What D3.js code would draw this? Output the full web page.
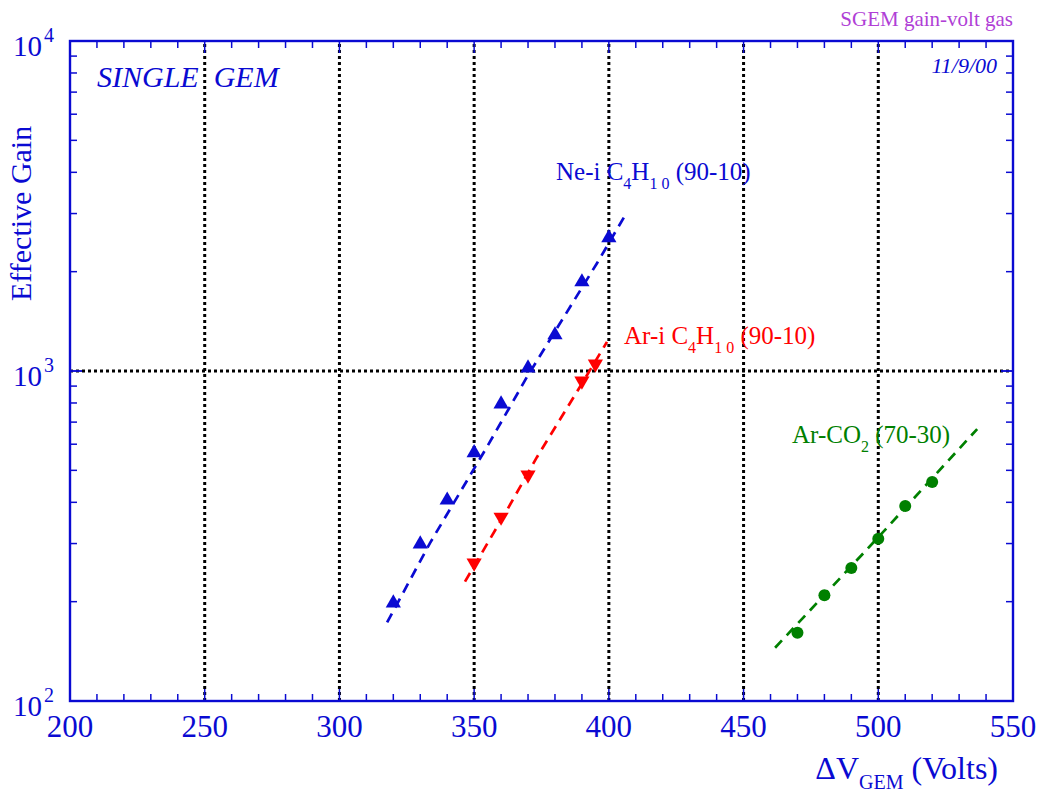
<!DOCTYPE html>
<html><head><meta charset="utf-8">
<script src="https://cdn.jsdelivr.net/npm/d3@7"></script>
<style>
html,body{margin:0;padding:0;background:#fff;}
svg{display:block;font-family:"Liberation Serif","Times New Roman",serif;}
</style></head>
<body>
<svg id="c" width="1048" height="794"></svg>
<script>
// ---- data ----
const voltNe = [320, 330, 340, 350, 360, 370, 380, 390, 400];
const gainNe = [198, 299, 406, 565, 794, 1021, 1286, 1862, 2532];
const voltAr = [350, 360, 370, 390, 395];
const gainAr = [262, 361, 484, 933, 1050];
const voltCO2 = [470, 480, 490, 500, 510, 520];
const gainCO2 = [161, 209, 253, 310, 390, 461];
// dashed fit curves
const fitNeV = [317.7, 333.6, 355.2, 369.6, 385.6, 395.6, 406.8];
const fitNeG = [173, 301, 597, 959, 1563, 2122, 3035];
const fitArV = [346.6, 362.2, 373.3, 389.3, 399.3];
const fitArG = [230, 379, 548, 896, 1225];
const fitCO2V = [461.7, 500.7, 536.7];
const fitCO2G = [145, 318, 667];
// axes
const xTicks = [200, 250, 300, 350, 400, 450, 500, 550];
const xGrid = [250, 300, 350, 400, 450, 500];
const yExp = [2, 3, 4];
const yGrid = [1000];

const BLUE = "#0a0ad2", RED = "#ff0000", GREEN = "#008000", PURPLE = "#b03fd6";

const L = 70, T = 41, R = 1013, B = 701;
const svg = d3.select("#c");
const x = d3.scaleLinear().domain([200, 550]).range([L, R]);
const y = d3.scaleLog().domain([100, 10000]).range([B, T]);

// grid
const grid = svg.append("g").attr("stroke", "#000").attr("stroke-width", 3).attr("stroke-dasharray", "3,3");
grid.selectAll(".vg").data(xGrid).join("line")
  .attr("x1", d => x(d)).attr("x2", d => x(d)).attr("y1", B).attr("y2", T);
grid.selectAll(".hg").data(yGrid).join("line")
  .attr("x1", L).attr("x2", R).attr("y1", d => y(d)).attr("y2", d => y(d));

// ticks
const xMinor = d3.range(200, 551, 10);
const yMinor = [];
[100, 1000].forEach(b => { for (let k = 1; k <= 10; k++) yMinor.push(b * k); });
const tg = svg.append("g").attr("stroke", BLUE).attr("stroke-width", 1.5);
tg.selectAll(".xb").data(xMinor).join("line")
  .attr("x1", d => x(d)).attr("x2", d => x(d)).attr("y1", B).attr("y2", d => B - (d % 50 === 0 ? 12 : 7));
tg.selectAll(".xt").data(xMinor).join("line")
  .attr("x1", d => x(d)).attr("x2", d => x(d)).attr("y1", T).attr("y2", d => T + (d % 50 === 0 ? 12 : 7));
const isMaj = d => Math.abs(Math.log10(d) - Math.round(Math.log10(d))) < 1e-9;
tg.selectAll(".yl").data(yMinor).join("line")
  .attr("y1", d => y(d)).attr("y2", d => y(d)).attr("x1", L).attr("x2", d => L + (isMaj(d) ? 12 : 7));
tg.selectAll(".yr").data(yMinor).join("line")
  .attr("y1", d => y(d)).attr("y2", d => y(d)).attr("x1", R).attr("x2", d => R - (isMaj(d) ? 12 : 7));

// frame
svg.append("rect").attr("x", L).attr("y", T).attr("width", R - L).attr("height", B - T)
  .attr("fill", "none").attr("stroke", BLUE).attr("stroke-width", 2.4);

// tick labels
svg.append("g").selectAll("text").data(xTicks).join("text")
  .attr("x", d => x(d)).attr("y", 737).attr("text-anchor", "middle")
  .attr("font-size", 31).attr("fill", BLUE).text(d => d);
const yl = svg.append("g").selectAll("g").data(yExp).join("g");
yl.append("text").attr("x", 42).attr("y", d => y(Math.pow(10, d)) + 15).attr("text-anchor", "end")
  .attr("font-size", 29).attr("fill", BLUE).text("10");
yl.append("text").attr("x", 44).attr("y", d => y(Math.pow(10, d)) + 1)
  .attr("font-size", 20).attr("fill", BLUE).text(d => d);

// fit lines
const line = d3.line().x(d => x(d[0])).y(d => y(d[1]));
function fit(V, G, col) {
  svg.append("path").datum(V.map((v, i) => [v, G[i]])).attr("d", line)
    .attr("fill", "none").attr("stroke", col).attr("stroke-width", 2.7).attr("stroke-dasharray", "10,7");
}
fit(fitNeV, fitNeG, BLUE);
fit(fitArV, fitArG, RED);
fit(fitCO2V, fitCO2G, GREEN);

// markers
const tri = d3.symbol().type(d3.symbolTriangle).size(100);
svg.append("g").selectAll("path").data(voltNe.map((v, i) => [v, gainNe[i]])).join("path")
  .attr("d", tri).attr("transform", d => `translate(${x(d[0])},${y(d[1])})`).attr("fill", BLUE);
svg.append("g").selectAll("path").data(voltAr.map((v, i) => [v, gainAr[i]])).join("path")
  .attr("d", tri).attr("transform", d => `translate(${x(d[0])},${y(d[1])}) rotate(180)`).attr("fill", RED);
svg.append("g").selectAll("circle").data(voltCO2.map((v, i) => [v, gainCO2[i]])).join("circle")
  .attr("cx", d => x(d[0])).attr("cy", d => y(d[1])).attr("r", 6).attr("fill", GREEN);

// series labels
function label(px, py, col, parts) {
  const t = svg.append("text").attr("x", px).attr("y", py).attr("fill", col).attr("font-size", 25)
    .style("white-space", "pre");
  parts.forEach(p => {
    const s = t.append("tspan").text(p[0]);
    if (p[1] === "sub") s.attr("font-size", 16).attr("dy", 9);
    if (p[1] === "back") s.attr("dy", -9);
  });
}
label(556, 180, BLUE, [["Ne-i C"], ["4", "sub"], ["H", "back"], ["1 0", "sub"], [" (90-10)", "back"]]);
label(624, 344, RED, [["Ar-i C"], ["4", "sub"], ["H", "back"], ["1 0", "sub"], [" (90-10)", "back"]]);
label(792, 443, GREEN, [["Ar-CO"], ["2", "sub"], [" (70-30)", "back"]]);

// annotations
svg.append("text").attr("x", 97).attr("y", 87).attr("font-size", 30).attr("font-style", "italic")
  .attr("fill", BLUE).style("white-space", "pre").text("SINGLE  GEM");
svg.append("text").attr("x", 997).attr("y", 73).attr("text-anchor", "end").attr("font-size", 22)
  .attr("font-style", "italic").attr("fill", BLUE).text("11/9/00");
svg.append("text").attr("x", 1013).attr("y", 26).attr("text-anchor", "end").attr("font-size", 21)
  .attr("fill", PURPLE).text("SGEM gain-volt gas");

// axis titles
svg.append("text").attr("transform", "translate(31,301) rotate(-90)").attr("font-size", 30)
  .attr("fill", BLUE).text("Effective Gain");
const xt = svg.append("text").attr("x", 998).attr("y", 779).attr("text-anchor", "end")
  .attr("font-size", 32).attr("fill", BLUE);
xt.append("tspan").text("\u0394V");
xt.append("tspan").attr("font-size", 20).attr("dy", 10).text("GEM");
xt.append("tspan").attr("dy", -10).text(" (Volts)");
</script>
</body></html>
